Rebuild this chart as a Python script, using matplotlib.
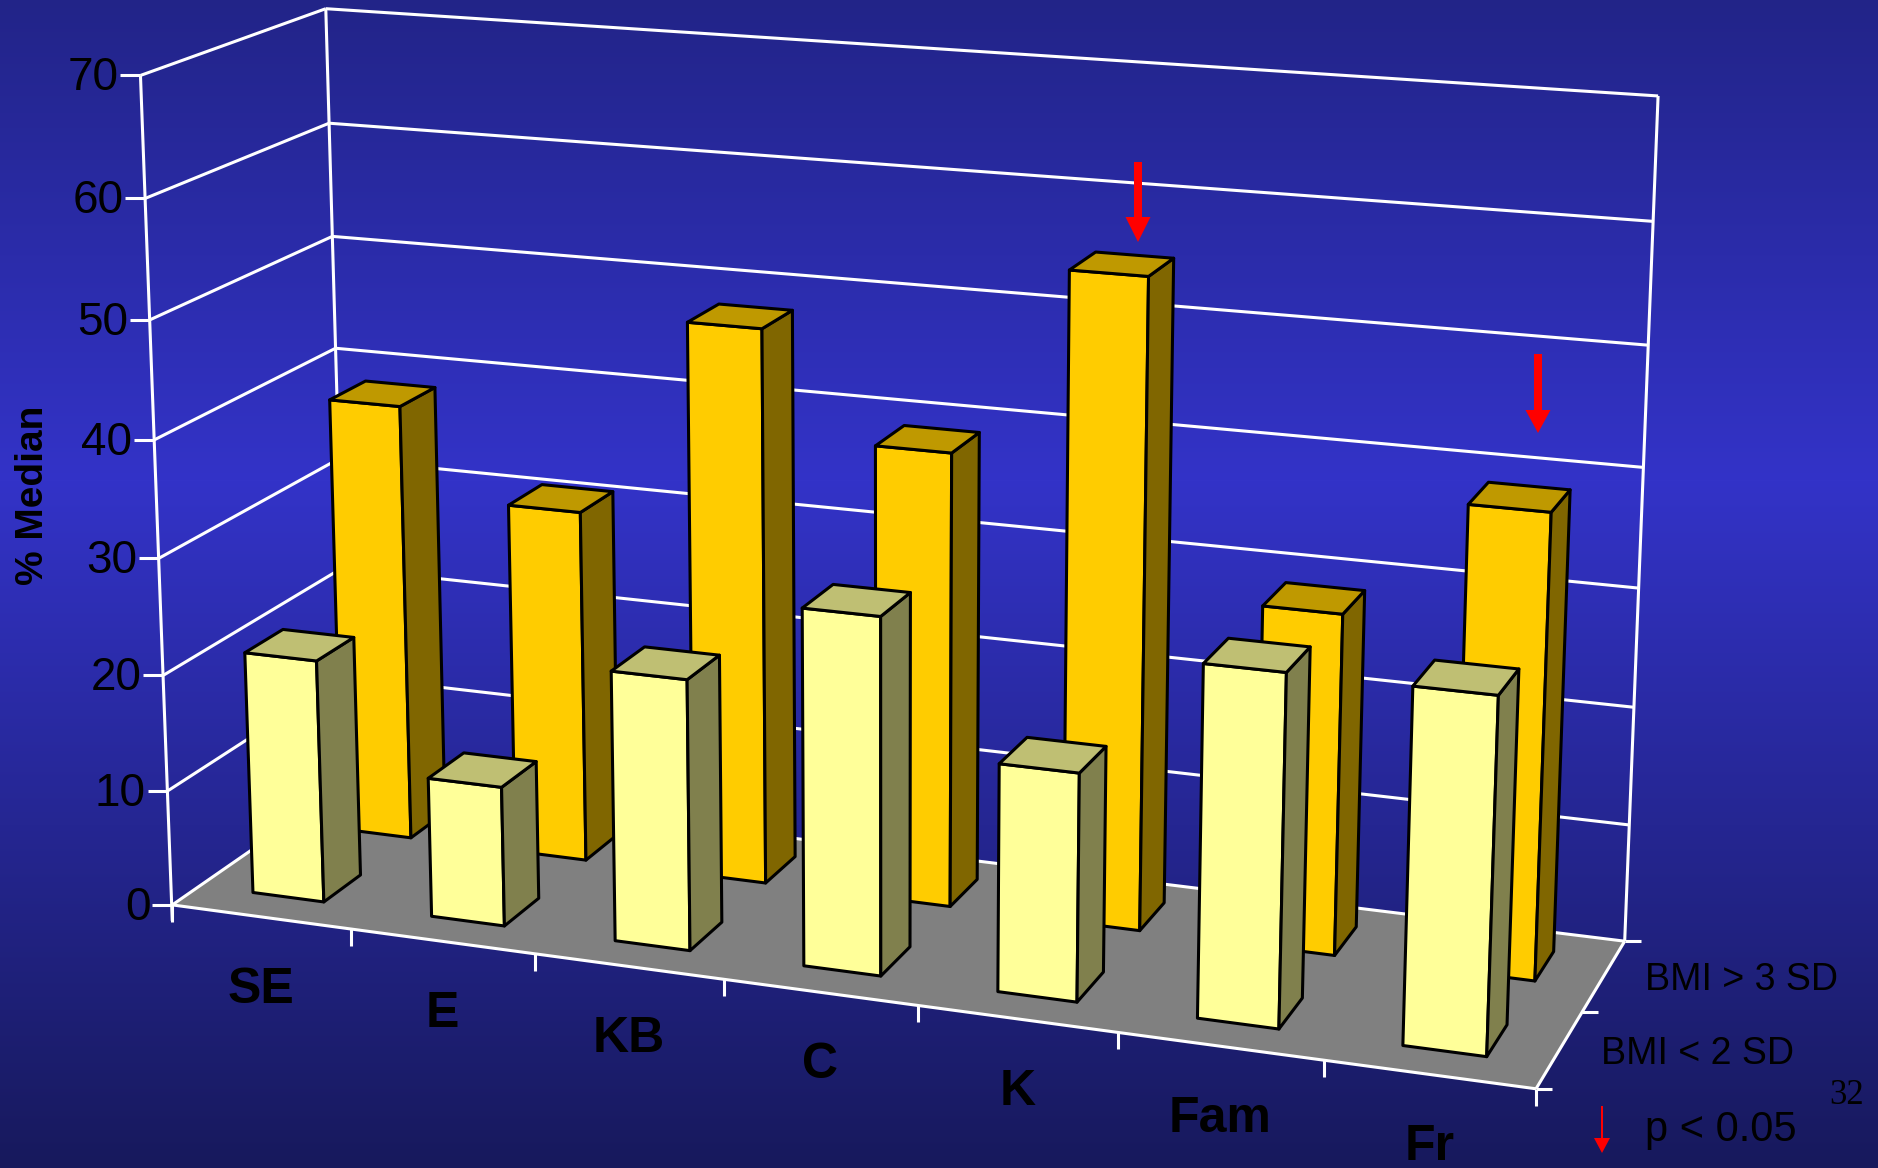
import matplotlib
matplotlib.use('Agg')
import matplotlib.pyplot as plt
import numpy as np
from matplotlib.patches import Polygon, FancyArrow

categories = ['SE', 'E', 'KB', 'C', 'K', 'Fam', 'Fr']
bmi_under_2sd = [21, 12, 23, 30, 19, 29, 29]
bmi_over_3sd = [38.5, 30.8, 48, 39, 55, 28.8, 38.8]
value_ticks = [0, 10, 20, 30, 40, 50, 60, 70]
series_labels = ['BMI < 2 SD', 'BMI > 3 SD']

WIDTH, HEIGHT = 1878, 1168
WHITE_LW = 2.2

# box corners (category, depth, value) against where they sit on the slide
anchors_3d = [(0, 0, 70), (0, 0, 60), (0, 0, 50), (0, 0, 40), (0, 0, 30), (0, 0, 20), (0, 0, 10), (0, 0, 0),
              (0, 1, 70), (0, 1, 60), (0, 1, 50), (0, 1, 40),
              (7, 1, 70), (7, 1, 60), (7, 1, 50), (7, 1, 40), (7, 1, 30), (7, 1, 0), (7, 0, 0)]
anchors_px = [(140.4, 74.3), (145.5, 199.7), (150.3, 320.7), (154, 439.7), (159.4, 558), (163, 674), (168, 790), (172, 906),
              (325, 8.7), (329, 122), (333, 238), (335.7, 348),
              (1658.5, 95), (1652.7, 223), (1648, 344), (1644, 469), (1638, 587), (1625, 941), (1536, 1089)]


def fit_camera(pts3d, pts2d):
    rows = []
    for (x, y, z), (u, v) in zip(pts3d, pts2d):
        rows.append([x, y, z, 1, 0, 0, 0, 0, -u * x, -u * y, -u * z, -u])
        rows.append([0, 0, 0, 0, x, y, z, 1, -v * x, -v * y, -v * z, -v])
    _, _, vt = np.linalg.svd(np.array(rows, dtype=float))
    return vt[-1].reshape(3, 4)


camera = fit_camera(anchors_3d, anchors_px)


def project(x, y, z):
    p = camera @ np.array([x, y, z, 1.0])
    return p[0] / p[2], p[1] / p[2]


def white_line(ax, a, b, zorder=2):
    ax.plot([a[0], b[0]], [a[1], b[1]], color='white', lw=WHITE_LW, zorder=zorder, solid_capstyle='butt')


def draw_bar(ax, x_center, y0, y1, value, colors, zorder):
    x0, x1 = x_center - 0.2, x_center + 0.2
    front, side, top = colors
    faces = [
        ([(x0, y0, 0), (x1, y0, 0), (x1, y0, value), (x0, y0, value)], front),
        ([(x1, y0, 0), (x1, y1, 0), (x1, y1, value), (x1, y0, value)], side),
        ([(x0, y0, value), (x1, y0, value), (x1, y1, value), (x0, y1, value)], top),
    ]
    for corners, color in faces:
        pts = [project(*c) for c in corners]
        ax.add_patch(Polygon(pts, closed=True, facecolor=color, edgecolor='black', lw=2.2, joinstyle='round', zorder=zorder))


fig = plt.figure(figsize=(WIDTH / 100, HEIGHT / 100), dpi=100)
ax = fig.add_axes([0, 0, 1, 1])
ax.set_xlim(0, WIDTH)
ax.set_ylim(HEIGHT, 0)
ax.axis('off')

# slide background, three stop vertical gradient
stops = np.array([0, 480, HEIGHT], dtype=float)
rows = np.arange(HEIGHT)
gradient = np.stack([np.interp(rows, stops, [34, 51, 23]),
                     np.interp(rows, stops, [36, 51, 25]),
                     np.interp(rows, stops, [136, 200, 92])], axis=1) / 255
ax.imshow(gradient[:, None, :], extent=[0, WIDTH, HEIGHT, 0], aspect='auto', zorder=0)

# floor
floor = [project(0, 0, 0), project(7, 0, 0), project(7, 1, 0), project(0, 1, 0)]
ax.add_patch(Polygon(floor, closed=True, facecolor='#808080', edgecolor='none', zorder=1))

# walls and gridlines
for z in value_ticks:
    white_line(ax, project(0, 0, z), project(0, 1, z))
    white_line(ax, project(0, 1, z), project(7, 1, z))
    fx, fy = project(0, 0, z)
    white_line(ax, (fx - 20, fy), (fx, fy))
    ax.text(fx - 22, fy + 3, str(z), ha='right', va='center', fontsize=33, color='black',
            family='Liberation Sans', zorder=5)
white_line(ax, project(0, 0, 70), (project(0, 0, 0)[0], project(0, 0, 0)[1] + 16))
white_line(ax, project(0, 1, 70), project(0, 1, 0))
white_line(ax, project(7, 1, 70), project(7, 1, 0))

# floor edges and ticks
white_line(ax, project(0, 0, 0), project(7, 0, 0), zorder=2)
white_line(ax, project(7, 0, 0), project(7, 1, 0), zorder=2)
for i in range(8):
    tx, ty = project(i, 0, 0)
    white_line(ax, (tx, ty), (tx, ty + 17))
for d in [0, 0.5, 1]:
    tx, ty = project(7, d, 0)
    white_line(ax, (tx, ty), (tx + 16, ty))

gold = ('#FFCC00', '#806600', '#BF9900')
pale = ('#FFFF99', '#80804D', '#BFBF73')
for i, value in enumerate(bmi_over_3sd):
    draw_bar(ax, i + 0.5, 0.66, 0.87, value, gold, 3)
for i, value in enumerate(bmi_under_2sd):
    draw_bar(ax, i + 0.5, 0.15, 0.36, value, pale, 4)

for i, name in enumerate(categories):
    lx, ly = project(i + 0.5, 0, 0)
    ax.text(lx, ly + 73, name, ha='center', va='center', fontsize=36, fontweight='bold',
            color='black', family='Liberation Sans', zorder=5)

ax.text(33, 495, '% Median', rotation=90, ha='center', va='center', fontsize=28, fontweight='bold',
        color='black', family='Liberation Sans', zorder=5)

ax.text(1645, 980, series_labels[1], ha='left', va='center', fontsize=27, color='black', family='Liberation Sans', zorder=5)
ax.text(1601, 1054, series_labels[0], ha='left', va='center', fontsize=27, color='black', family='Liberation Sans', zorder=5)
ax.text(1645, 1130, 'p < 0.05', ha='left', va='center', fontsize=30, color='black', family='Liberation Sans', zorder=5)
ax.text(1847, 1096, '32', ha='center', va='center', fontsize=25, color='black', family='Liberation Serif', zorder=5)

# significance arrows above K and Fr, plus the key arrow
for ax_x, tail, tip, shaft, head_w, head_l in [(1138, 162, 242, 8, 25, 25), (1538, 354, 433, 8, 25, 23), (1602, 1106, 1153, 2, 16, 15)]:
    ax.add_patch(FancyArrow(ax_x, tail, 0, tip - tail, width=shaft, head_width=head_w, head_length=head_l,
                            length_includes_head=True, color='#FF0000', lw=0, zorder=6))

fig.savefig('out.png', dpi=100)
plt.close(fig)
